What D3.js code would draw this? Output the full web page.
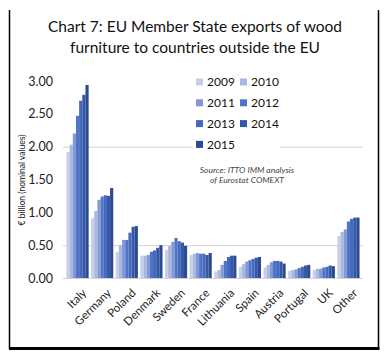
<!DOCTYPE html>
<html>
<head>
<meta charset="utf-8">
<script src="https://cdn.jsdelivr.net/npm/d3@7"></script>
<style>
  body { margin: 0; background: #fff; }
  svg { display: block; font-family: Lato, "Open Sans", sans-serif; }
</style>
</head>
<body>
<svg id="chart" width="391" height="359"></svg>
<script>
// categories and series (EUR billion)
var countries = ["Italy", "Germany", "Poland", "Denmark", "Sweden", "France",
  "Lithuania", "Spain", "Austria", "Portugal", "UK", "Other"];
var years = ["2009", "2010", "2011", "2012", "2013", "2014", "2015"];
var s2009 = [1.92, 0.91, 0.40, 0.34, 0.43, 0.35, 0.10, 0.17, 0.16, 0.11, 0.12, 0.64];
var s2010 = [2.03, 1.02, 0.50, 0.34, 0.49, 0.37, 0.12, 0.21, 0.20, 0.12, 0.14, 0.70];
var s2011 = [2.20, 1.19, 0.58, 0.35, 0.55, 0.38, 0.20, 0.25, 0.24, 0.13, 0.14, 0.74];
var s2012 = [2.47, 1.24, 0.58, 0.40, 0.61, 0.37, 0.26, 0.27, 0.26, 0.15, 0.16, 0.86];
var s2013 = [2.70, 1.26, 0.69, 0.42, 0.56, 0.37, 0.32, 0.29, 0.26, 0.17, 0.17, 0.90];
var s2014 = [2.79, 1.25, 0.78, 0.46, 0.54, 0.35, 0.34, 0.31, 0.25, 0.19, 0.19, 0.92];
var s2015 = [2.94, 1.37, 0.79, 0.50, 0.49, 0.38, 0.34, 0.32, 0.22, 0.20, 0.18, 0.92];
var yTicks = [0, 0.5, 1, 1.5, 2, 2.5, 3];

var series = [s2009, s2010, s2011, s2012, s2013, s2014, s2015];
var colors = ["#c6cfe9", "#a9b8e0", "#8299d4", "#4f74c8", "#4469bd", "#3658a8", "#2b4a90"];

var svg = d3.select("#chart");

// frame (left, right, bottom)
svg.append("line").attr("x1", 9.5).attr("x2", 9.5).attr("y1", 10).attr("y2", 349)
  .attr("stroke", "#000").attr("stroke-width", 1.5);
svg.append("line").attr("x1", 378.5).attr("x2", 378.5).attr("y1", 10).attr("y2", 349)
  .attr("stroke", "#000").attr("stroke-width", 1.5);
svg.append("line").attr("x1", 9).attr("x2", 379.5).attr("y1", 348.5).attr("y2", 348.5)
  .attr("stroke", "#000").attr("stroke-width", 3);

// title
var title = svg.append("text").attr("text-anchor", "middle")
  .attr("font-size", 15.5).attr("fill", "#111");
title.append("tspan").attr("x", 195).attr("y", 32).text("Chart 7: EU Member State exports of wood");
title.append("tspan").attr("x", 195).attr("y", 53).text("furniture to countries outside the EU");

var x = d3.scaleBand().domain(countries).range([64, 362])
  .paddingInner(0.1).paddingOuter(0.1);
var xs = d3.scaleBand().domain(years).range([0, x.bandwidth()]);
var y = d3.scaleLinear().domain([0, 3]).range([278, 81]);

// gridlines (only the ones that show in the reference)
svg.append("g").selectAll("line").data([0.5, 2]).join("line")
  .attr("x1", 63).attr("x2", 363)
  .attr("y1", function(d) { return y(d) + 0.5; })
  .attr("y2", function(d) { return y(d) + 0.5; })
  .attr("stroke", "#d4d4d4");

// y axis labels
var yAxis = d3.axisLeft(y).tickValues(yTicks).tickFormat(d3.format(".2f"))
  .tickSize(0).tickPadding(0);
svg.append("g").attr("transform", "translate(53,0)").call(yAxis)
  .call(function(g) { g.select(".domain").remove(); })
  .selectAll("text").attr("font-size", 12.5).attr("fill", "#222")
  .attr("font-family", "Lato, sans-serif");

// bars
series.forEach(function(vals, i) {
  svg.append("g").selectAll("rect").data(vals).join("rect")
    .attr("x", function(d, j) { return x(countries[j]) + xs(years[i]); })
    .attr("y", function(d) { return y(d); })
    .attr("width", xs.bandwidth())
    .attr("height", function(d) { return y(0) - y(d); })
    .attr("fill", colors[i]);
});

// baseline
svg.append("line").attr("x1", 63).attr("x2", 363)
  .attr("y1", y(0) + 0.5).attr("y2", y(0) + 0.5).attr("stroke", "#d4d4d4");

// x labels
svg.append("g").selectAll("text").data(countries).join("text")
  .attr("transform", function(d) {
    return "translate(" + (x(d) + x.bandwidth() / 2 + 4) + ",288) rotate(-45)";
  })
  .attr("text-anchor", "end").attr("dy", "0.7em")
  .attr("font-size", 11.5).attr("fill", "#222")
  .text(function(d) { return d; });

// y axis title
svg.append("text").attr("transform", "translate(25,180) rotate(-90)")
  .attr("text-anchor", "middle").attr("font-size", 8.5).attr("fill", "#222")
  .text("€ billion (nominal values)");

// legend (white box hides the gridline behind it)
svg.append("rect").attr("x", 193).attr("y", 72).attr("width", 87).attr("height", 82)
  .attr("fill", "#fff");
var leg = svg.append("g").selectAll("g").data(years).join("g")
  .attr("transform", function(d, i) {
    return "translate(" + (i % 2 ? 240 : 196) + "," + (82 + Math.floor(i / 2) * 20.8) + ")";
  });
leg.append("rect").attr("x", 0).attr("y", -3.5).attr("width", 7).attr("height", 7)
  .attr("fill", function(d, i) { return colors[i]; });
leg.append("text").attr("x", 11).attr("dy", "0.35em").attr("font-size", 12)
  .attr("fill", "#111").text(function(d) { return d; });

// source note
var src = svg.append("text").attr("text-anchor", "middle").attr("font-size", 8.5)
  .attr("font-style", "italic").attr("fill", "#444");
src.append("tspan").attr("x", 247).attr("y", 173).text("Source: ITTO IMM analysis");
src.append("tspan").attr("x", 247).attr("y", 183).text("of Eurostat COMEXT");
</script>
</body>
</html>
